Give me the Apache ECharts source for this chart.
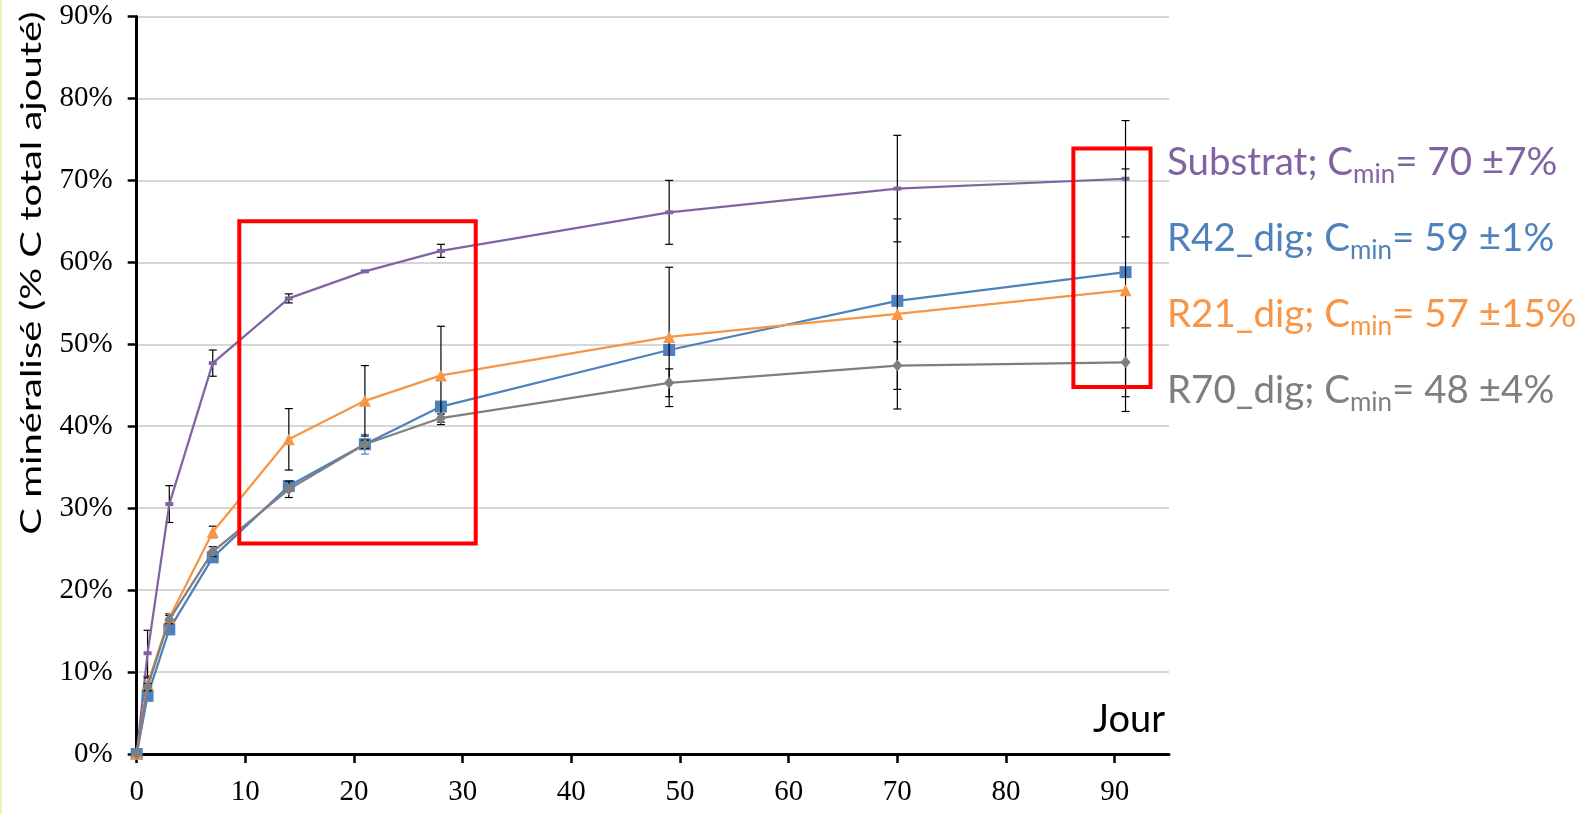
<!DOCTYPE html>
<html><head><meta charset="utf-8">
<script src="https://cdn.jsdelivr.net/npm/echarts@6/dist/echarts.min.js"></script>
<style>html,body{margin:0;padding:0;background:#fff}#c{width:1575px;height:814px}</style>
</head><body><div id="c"></div>
<script>
// ---- data ----
const days = [0, 1, 3, 7, 14, 21, 28, 49, 70, 91];
const seriesNames = ['Substrat', 'R42_dig', 'R21_dig', 'R70_dig'];
const substrat    = [0, 12.3, 30.5, 47.7, 55.6, 58.9, 61.4, 66.1, 69.0, 70.2];
const substratErr = [0, 2.8, 2.25, 1.6, 0.55, 0.1, 0.8, 3.9, 6.5, 7.1];
const r42         = [0, 7.1, 15.2, 24.0, 32.7, 37.8, 42.4, 49.3, 55.3, 58.8];
const r42Err      = [0, 0.5, 0.4, 0.4, 0.6, 1.2, 0.4, 0.3, 0.3, 0.5];
const r21         = [0, 8.5, 16.6, 27.1, 38.4, 43.1, 46.2, 50.9, 53.7, 56.6];
const r21Err      = [0, 0.8, 0.5, 0.7, 3.75, 4.3, 6.0, 8.5, 11.6, 14.8];
const r70         = [0, 8.2, 16.4, 24.7, 32.3, 37.8, 41.0, 45.3, 47.4, 47.8];
const r70Err      = [0, 0.4, 0.5, 0.6, 1.0, 0.5, 0.5, 1.7, 2.9, 4.2];
const cminValues  = [70, 59, 57, 48];
const cminErrors  = [7, 1, 15, 4];
const xTickValues = [0, 10, 20, 30, 40, 50, 60, 70, 80, 90];
const yTickValues = [0, 10, 20, 30, 40, 50, 60, 70, 80, 90];
const highlightBoxes = [[9.44, 31.2, 25.7, 65.0], [86.2, 93.3, 44.8, 73.9]];
const yTitle = 'C minéralisé (% C total ajouté)';
const xTitle = 'Jour';

// ---- styles ----
const colors = ['#8064A2', '#4F81BD', '#F79646', '#7F7F7F'];
const values = [substrat, r42, r21, r70];
const errors = [substratErr, r42Err, r21Err, r70Err];
const errColors = ['#000', '#4F81BD', '#000', '#000'];
const symbols = ['rect', 'rect', 'triangle', 'diamond'];
const symbolSizes = [[8, 4], 12, 12, [10, 12]];

const chart = echarts.init(document.getElementById('c'), null, {renderer: 'canvas'});

const lineSeries = seriesNames.map((n, i) => ({
  name: n, type: 'line', z: 3 + i,
  data: days.map((d, k) => [d, values[i][k]]),
  lineStyle: {color: colors[i], width: 2.25},
  itemStyle: {color: colors[i]},
  symbol: symbols[i], symbolSize: symbolSizes[i], showAllSymbol: true,
  emphasis: {disabled: true}
}));

const errSeries = seriesNames.map((n, i) => ({
  name: n + '_err', type: 'custom', z: 3 + i,
  data: days.map((d, k) => [d, values[i][k], errors[i][k]]),
  encode: {x: 0, y: 1},
  renderItem: (params, api) => {
    const x = api.value(0), y = api.value(1), e = api.value(2);
    if (!e) return null;
    const t = api.coord([x, y + e]), b = api.coord([x, y - e]);
    const st = {stroke: errColors[i], lineWidth: 1.2};
    const w = 4;
    return {type: 'group', children: [
      {type: 'line', shape: {x1: t[0], y1: t[1], x2: b[0], y2: b[1]}, style: st},
      {type: 'line', shape: {x1: t[0] - w, y1: t[1], x2: t[0] + w, y2: t[1]}, style: st},
      {type: 'line', shape: {x1: b[0] - w, y1: b[1], x2: b[0] + w, y2: b[1]}, style: st}
    ]};
  },
  silent: true
}));

const boxSeries = {
  type: 'custom', name: 'boxes', z: 20,
  data: highlightBoxes,
  encode: {x: [0, 1], y: [2, 3]},
  renderItem: (params, api) => {
    const p0 = api.coord([api.value(0), api.value(3)]);
    const p1 = api.coord([api.value(1), api.value(2)]);
    return {type: 'rect', shape: {x: p0[0], y: p0[1], width: p1[0] - p0[0], height: p1[1] - p0[1]},
      style: {fill: 'none', stroke: '#FF0000', lineWidth: 4}};
  },
  silent: true
};

const rich = {};
colors.forEach((c, i) => {
  rich['t' + i] = {color: c, fontSize: 38.5, fontFamily: 'Lato', lineHeight: 50};
  rich['s' + i] = {color: c, fontSize: 26, fontFamily: 'Lato', lineHeight: 26, verticalAlign: 'bottom'};
});

chart.setOption({
  animation: false,
  backgroundColor: '#fff',
  grid: {left: 136.7, right: 406, top: 16.5, bottom: 60, containLabel: false},
  xAxis: {
    type: 'value', min: 0, max: 95, interval: 10,
    name: xTitle, nameLocation: 'end', nameGap: 0,
    nameTextStyle: {fontFamily: 'Lato', fontSize: 38, color: '#000', align: 'right', verticalAlign: 'bottom', padding: [0, 4, 15, 0]},
    axisLine: {lineStyle: {color: '#000', width: 3}},
    axisTick: {show: true, inside: false, length: 9, lineStyle: {color: '#000', width: 2.5}, customValues: xTickValues},
    axisLabel: {customValues: xTickValues, fontFamily: 'Liberation Serif', fontSize: 29, color: '#000', margin: 24},
    splitLine: {show: false}
  },
  yAxis: {
    type: 'value', min: 0, max: 90, interval: 10,
    axisLine: {show: true, lineStyle: {color: '#000', width: 3}},
    axisTick: {show: true, inside: false, length: 9, lineStyle: {color: '#000', width: 2.5}},
    axisLabel: {formatter: v => v + '%', fontFamily: 'Liberation Serif', fontSize: 29, color: '#000', margin: 24},
    splitLine: {show: true, lineStyle: {color: '#c8c8c8', width: 1.5}}
  },
  legend: {
    orient: 'vertical', left: 1162, top: 143, itemWidth: 0, itemHeight: 0, itemGap: 31.5,
    icon: 'none', selectedMode: false, padding: 0,
    data: seriesNames.map(n => ({name: n, icon: 'none'})),
    formatter: name => {
      const i = seriesNames.indexOf(name);
      return `{t${i}|${name}; C}{s${i}|min}{t${i}|= ${cminValues[i]} ±${cminErrors[i]}%}`;
    },
    textStyle: {rich: rich}
  },
  graphic: [
    {type: 'rect', left: 0, top: 0, shape: {width: 2, height: 814}, style: {fill: '#eef0b8'}, silent: true},
    {type: 'text', x: 32, y: 273, rotation: Math.PI / 2, scaleX: 1.4,
     style: {text: yTitle, font: '28.5px Lato', fill: '#000', align: 'center', verticalAlign: 'middle'}, silent: true}
  ],
  series: [...lineSeries, ...errSeries, boxSeries]
});
</script></body></html>
